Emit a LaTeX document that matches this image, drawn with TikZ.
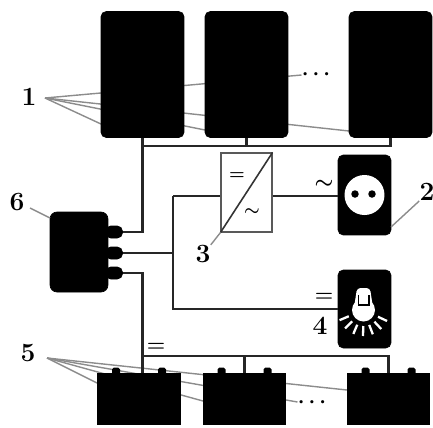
\documentclass[tikz,border=0pt]{standalone}
\usepackage{xcolor}
\usepackage{tikz}
\definecolor{leaderline}{HTML}{8C8C8C}
\tikzset{
  blackbox/.style={fill=black, draw=black, rounded corners=3pt, inner sep=0pt},
  wire/.style={draw=black!85, line width=1.6pt},
  leader/.style={draw=leaderline, line width=0.8pt},
  numlabel/.style={font=\fontsize{15}{15}\selectfont\bfseries, inner sep=0pt},
  signlabel/.style={font=\fontsize{10}{10}\selectfont\bfseries\boldmath, inner sep=0pt, text=black},
  dotlabel/.style={font=\fontsize{12}{12}\selectfont\boldmath, inner sep=0pt, text=black},
}
\begin{document}
\begin{tikzpicture}[x=0.02cm, y=-0.02cm]
  \useasboundingbox (0,0) rectangle (433,427);

  \node[numlabel] (lbl1) at (29,97) {1};
  \node[numlabel] (lbl2) at (427,192) {2};
  \node[numlabel] (lbl3) at (203,254) {3};
  \node[numlabel] (lbl4) at (320,326) {4};
  \node[numlabel] (lbl5) at (28,353) {5};
  \node[numlabel] (lbl6) at (17,202) {6};
  \node[dotlabel] (dots1) at (316,75) {$\cdots$};
  \node[dotlabel] (dots2) at (312,402) {$\cdots$};

  \coordinate (fan1) at (45,98);
  \coordinate (fan5) at (47,358);
  \draw[leader] (fan1) -- (dots1.west);
  \draw[leader] (fan5) -- (dots2.west);
  \foreach \tip/\x/\y in {a/101/124,b/205/130,c/349/131} {
    \coordinate (\tip) at (\x,\y);
    \draw[leader] (fan1) -- (\tip);
  }
  \foreach \tip/\x/\y in {a/97/383,b/203/401,c/347/390} {
    \coordinate (\tip) at (\x,\y);
    \draw[leader] (fan5) -- (\tip);
  }

  \foreach \name/\x in {pv1/142.5,pv2/246.5,pv3/390.5} {
    \node[blackbox, minimum width=1.66cm, minimum height=2.52cm] (\name) at (\x,74.5) {};
  }
  \foreach \name/\x in {bat1/139,bat2/244.5,bat3/388.5} {
    \node[fill=black, inner sep=0pt, minimum width=1.67cm, minimum height=1.04cm] (\name) at (\x,399) {};
    \node[fill=black, rounded corners=1pt, inner sep=0pt, minimum width=0.16cm, minimum height=0.14cm] (\name l) at (\x-23,371) {};
    \node[fill=black, rounded corners=1pt, inner sep=0pt, minimum width=0.16cm, minimum height=0.14cm] (\name r) at (\x+23,371) {};
  }

  \node[blackbox, rounded corners=4pt, minimum width=1.16cm, minimum height=1.6cm] (ctrl) at (79,252) {};
  \foreach \name/\y in {t1/232,t2/253,t3/273} {
    \node[blackbox, minimum width=0.34cm, minimum height=0.24cm] (\name) at (114,\y) {};
  }
  \node[draw=black!65, fill=white, line width=0.6pt, inner sep=0pt, minimum width=1.02cm, minimum height=1.58cm] (conv) at (246.5,192.5) {};
  \draw[black!80, line width=0.9pt] (conv.south west) -- (conv.north east);
  \node[signlabel] (sgn1) at (237,176) {=};
  \node[signlabel] (sgn2) at (252,212) {$\sim$};

  \node[blackbox, minimum width=1.06cm, minimum height=1.6cm] (socket) at (364.5,195) {};
  \node[circle, fill=white, inner sep=0pt, minimum size=0.8cm] (face) at (364.5,195) {};
  \node[circle, fill=black, inner sep=0pt, minimum size=0.15cm] (hole1) at (355,194) {};
  \node[circle, fill=black, inner sep=0pt, minimum size=0.15cm] (hole2) at (372,194) {};

  \node[blackbox, minimum width=1.06cm, minimum height=1.56cm] (lamp) at (364.5,309) {};
  \node[circle, fill=white, inner sep=0pt, minimum size=0.46cm] (bulb) at (363.5,310) {};
  \fill[white, rounded corners=2pt] (354,308) -- (357,288) -- (370,288) -- (373,308) -- cycle;
  \draw[black, line width=0.7pt] (358.5,295) -- (358.5,305) -- (369,305) -- (369,295);
  \foreach \ang in {25,47,69,91,113,135,157} {
    \draw[white, line width=1.3pt] (bulb.center) ++(\ang:16) -- ++(\ang:10);
  }

  \coordinate (pvbus) at (142.5,146);
  \coordinate (batbus) at (142.5,356);
  \coordinate (dcline) at (173,196);
  \coordinate (tip2) at (391,227);
  \coordinate (tip6a) at (30,208);
  \coordinate (tip6b) at (50,218);
  \draw[wire] (t1.east) -| (pv1.south);
  \draw[wire] (pvbus) -| (pv2.south);
  \draw[wire] (pvbus) -| (pv3.south);
  \draw[wire] (t3.east) -| (batbus);
  \draw[wire] (batbus) -- (batbus |- bat1.north);
  \draw[wire] (batbus) -| (bat2.north);
  \draw[wire] (batbus) -| (bat3.north);
  \draw[wire] (t2.east) -| (dcline);
  \draw[wire] (dcline) -- (dcline -| conv.west);
  \draw[wire] (dcline) |- (lamp.west);
  \draw[wire] (dcline -| conv.east) -- (dcline -| socket.west);

  \draw[leader] (lbl2.south west) -- (tip2);
  \draw[leader] (lbl3.north east) -- (conv.south west);
  \draw[leader] (tip6a) -- (tip6b);

  \node[signlabel, font=\fontsize{13}{13}\selectfont\bfseries\boldmath] (sgn3) at (324,184) {$\sim$};
  \node[signlabel, font=\fontsize{12}{12}\selectfont\bfseries\boldmath] (sgn4) at (324,297) {=};
  \node[signlabel, font=\fontsize{12}{12}\selectfont\bfseries\boldmath] (sgn5) at (156,347) {=};
\end{tikzpicture}
\end{document}
